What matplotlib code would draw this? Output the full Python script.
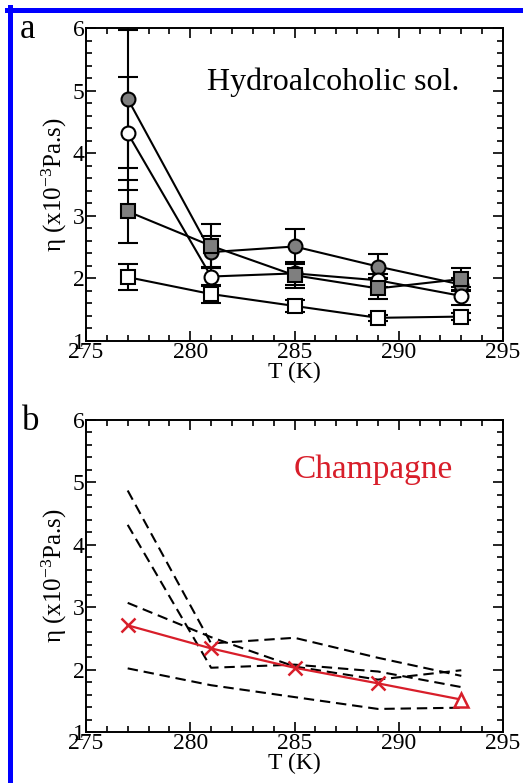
import matplotlib.pyplot as plt
from matplotlib.lines import Line2D
from matplotlib.ticker import MultipleLocator

plt.rcParams['font.family'] = ['Liberation Serif', 'DejaVu Serif']
plt.rcParams['mathtext.fontset'] = 'custom'
plt.rcParams['mathtext.rm'] = 'Liberation Serif'
plt.rcParams['mathtext.it'] = 'Liberation Serif:italic'

# Temperatures (K)
T = [277, 281, 285, 289, 293]

# Hydroalcoholic solutions: viscosity (x1e-3 Pa.s) and error bars
eta_filled_circle = [4.87, 2.42, 2.51, 2.19, 1.90]
err_filled_circle = [1.10, 0.25, 0.28, 0.20, 0.10]
eta_open_circle = [4.32, 2.03, 2.08, 1.97, 1.72]
err_open_circle = [0.90, 0.15, 0.18, 0.10, 0.15]
eta_filled_square = [3.07, 2.52, 2.05, 1.84, 1.99]
err_filled_square = [0.50, 0.35, 0.20, 0.17, 0.18]
eta_open_square = [2.02, 1.75, 1.56, 1.37, 1.39]
err_open_square = [0.21, 0.15, 0.10, 0.05, 0.05]

# Champagne
T_champ = [277, 281, 285, 289]
eta_champ = [2.71, 2.34, 2.03, 1.78]
T_last = [293]
eta_last = [1.52]

red = '#d81e2a'
gray = '#7f7f7f'

fig = plt.figure(figsize=(5.23, 7.83), dpi=100)
ax_a = fig.add_axes([0.1644, 0.5645, 0.7974, 0.3997])
ax_b = fig.add_axes([0.1644, 0.0651, 0.7974, 0.3985])

series = [
    (eta_filled_circle, err_filled_circle, 'o', gray),
    (eta_open_circle, err_open_circle, 'o', 'white'),
    (eta_filled_square, err_filled_square, 's', gray),
    (eta_open_square, err_open_square, 's', 'white'),
]

for eta, err, mk, fc in series:
    ax_a.errorbar(T, eta, yerr=err, fmt=mk + '-', color='black', lw=1.5,
                  ms=10, mfc=fc, mec='black', mew=1.5, capsize=7,
                  capthick=1.5, elinewidth=1.5)
    ax_b.plot(T, eta, '--', color='black', lw=1.5, dashes=(5, 2.8))

ax_b.plot(T_champ + T_last, eta_champ + eta_last, '-', color=red, lw=1.6)
ax_b.plot(T_champ, eta_champ, 'x', color=red, ms=10, mew=1.8)
ax_b.plot(T_last, eta_last, '^', color=red, ms=10, mfc='white', mew=1.8)

ax_a.text(286.85, 5.14, 'Hydroalcoholic sol.', fontsize=23,
          ha='center', va='center')
ax_b.text(288.8, 5.2, 'Champagne', fontsize=24, color=red,
          ha='center', va='center')

for ax in (ax_a, ax_b):
    ax.set_xlim(275, 295)
    ax.set_ylim(1, 6)
    ax.xaxis.set_major_locator(MultipleLocator(5))
    ax.xaxis.set_minor_locator(MultipleLocator(1))
    ax.yaxis.set_major_locator(MultipleLocator(1))
    ax.yaxis.set_minor_locator(MultipleLocator(0.2))
    ax.tick_params(which='both', direction='in', top=True, right=True,
                   width=1.2, labelsize=17, pad=1)
    ax.tick_params(which='major', length=7)
    ax.tick_params(which='minor', length=4)
    for sp in ax.spines.values():
        sp.set_linewidth(1.4)
    ax.set_xlabel('T (K)', fontsize=17, labelpad=-1)
    ax.set_ylabel('η (x10$^{-3}$Pa.s)', fontsize=18, labelpad=3)

fig.text(20 / 523, 1 - 30 / 783, 'a', fontsize=25, va='center', ha='left')
fig.text(22 / 523, 1 - 421 / 783, 'b', fontsize=25, va='center', ha='left')

# blue frame on the top and left edges
fig.add_artist(Line2D([9.5 / 523, 9.5 / 523], [0, 1 - 7 / 783],
                      transform=fig.transFigure, color='#0000ff', lw=3.6))
fig.add_artist(Line2D([7 / 523, 1], [1 - 9.5 / 783, 1 - 9.5 / 783],
                      transform=fig.transFigure, color='#0000ff', lw=3.6))

fig.savefig('out.png', dpi=100)
